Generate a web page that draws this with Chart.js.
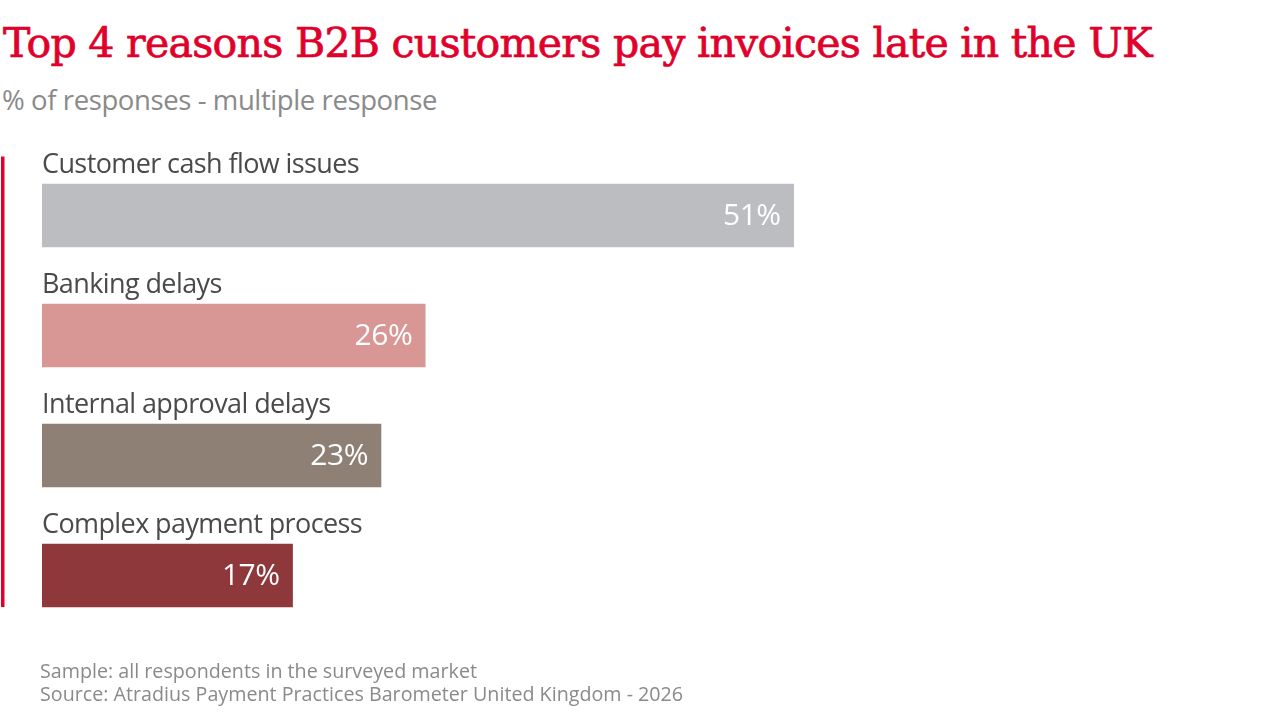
<!DOCTYPE html>
<html>
<head>
<meta charset="utf-8">
<script src="https://cdn.jsdelivr.net/npm/chart.js@4"></script>
<style>
  html, body { margin: 0; padding: 0; background: #fff; }
  #wrap { position: relative; width: 1280px; height: 720px; overflow: hidden; }
  #title { position: absolute; left: 3px; top: 19px; font-family: "DejaVu Serif", serif; font-size: 41px; line-height: 48px; letter-spacing: -0.7px; color: #E0002A; -webkit-text-stroke: 0.7px #E0002A; white-space: nowrap; }
  #subtitle { position: absolute; left: 2px; top: 81px; font-family: "Open Sans", sans-serif; font-size: 27.5px; letter-spacing: -0.4px; color: #8a8a8a; white-space: nowrap; }
  #footer { position: absolute; left: 40px; top: 659px; font-family: "Open Sans", sans-serif; font-size: 19.7px; line-height: 23px; color: #8a8a8a; }
  canvas { position: absolute; left: 0; top: 0; }
</style>
</head>
<body>
<div id="wrap">
  <div id="title">Top 4 reasons B2B customers pay invoices late in the UK</div>
  <div id="subtitle">% of responses - multiple response</div>
  <canvas id="chart" width="1280" height="720"></canvas>
  <div id="footer">Sample: all respondents in the surveyed market<br>Source: Atradius Payment Practices Barometer United Kingdom - 2026</div>
</div>
<script>
// chart data
const reasons = ['Customer cash flow issues', 'Banking delays', 'Internal approval delays', 'Complex payment process'];
const shares = [51, 26, 23, 17];
const barColors = ['#BCBDC1', '#D89795', '#8F8076', '#8E383B'];

// draws the category name above each bar, the value inside it and the red rule at the left
const barLabels = {
    id: 'barLabels',
    afterDatasetsDraw(chart) {
        const ctx = chart.ctx;
        const bars = chart.getDatasetMeta(0).data;
        ctx.save();
        bars.forEach((bar, i) => {
            const top = bar.y - bar.height / 2;
            ctx.font = '27px "Open Sans"';
            ctx.letterSpacing = '-0.6px';
            ctx.fillStyle = '#4a4a4a';
            ctx.textAlign = 'left';
            ctx.textBaseline = 'alphabetic';
            ctx.fillText(reasons[i], bar.base, top - 11);

            ctx.font = '30px "Open Sans"';
            ctx.letterSpacing = '-0.5px';
            ctx.fillStyle = '#ffffff';
            ctx.textAlign = 'right';
            ctx.textBaseline = 'middle';
            ctx.fillText(shares[i] + '%', bar.x - 13, bar.y + 1);
        });
        const last = bars[bars.length - 1];
        ctx.fillStyle = '#E0002A';
        ctx.fillRect(1, chart.chartArea.top + 1, 3.5, last.y + last.height / 2 - chart.chartArea.top - 1);
        ctx.restore();
    }
};

new Chart(document.getElementById('chart').getContext('2d'), {
    type: 'bar',
    data: {
        labels: reasons,
        datasets: [{
            data: shares,
            backgroundColor: barColors,
            borderWidth: 0,
            barThickness: 63
        }]
    },
    options: {
        indexAxis: 'y',
        responsive: false,
        animation: false,
        layout: { padding: { left: 42, right: 0, top: 155.5, bottom: 84.5 } },
        scales: {
            x: { display: false, min: 0, max: 84 },
            y: { display: false }
        },
        plugins: {
            legend: { display: false },
            tooltip: { enabled: false }
        }
    },
    plugins: [barLabels]
});
</script>
</body>
</html>
